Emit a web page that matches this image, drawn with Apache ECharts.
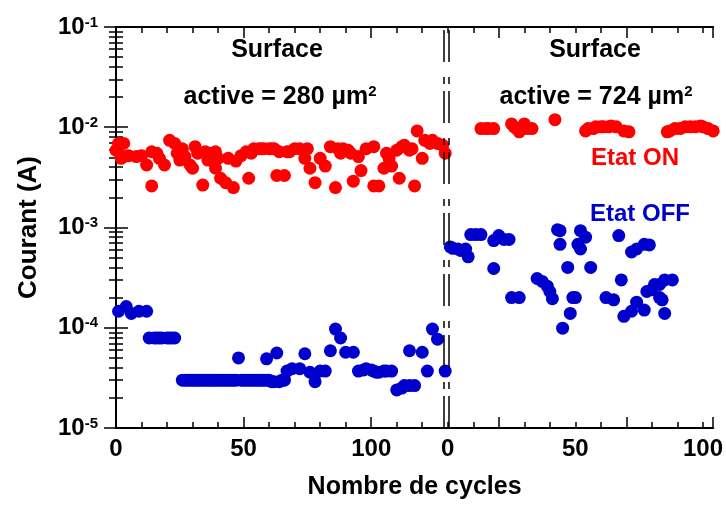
<!DOCTYPE html>
<html>
<head>
<meta charset="utf-8">
<title>Courant - Nombre de cycles</title>
<script src="https://cdn.jsdelivr.net/npm/echarts@6/dist/echarts.min.js"></script>
<style>
  html, body { margin: 0; padding: 0; background: #fff; }
  #chart { width: 726px; height: 505px; }
</style>
</head>
<body>
<div id="chart"></div>
<script>
// the two measurement runs share one x axis, the second run starts at 130
const SECOND_START = 130

// labels of the bottom axis (position on the shared axis -> text)
const xLabelPos = [0, 50, 100, 130, 180, 230]
const xLabelText = ['0', '50', '100', '0', '50', '100']

// surface 280 µm2 : [cycle, courant (A)]
const onLeft = [
  [0, 5.9e-3], [1, 6.9e-3], [2, 4.9e-3], [3, 6.9e-3], [3, 5.1e-3], [5, 5.2e-3], [8, 5.1e-3],
  [10, 5.2e-3], [12, 4.2e-3], [14, 5.7e-3], [14, 2.6e-3], [16, 5.5e-3], [17, 4.9e-3],
  [19, 4.2e-3], [21, 7.4e-3], [23, 6.9e-3], [24, 5.5e-3], [25, 4.7e-3], [26, 6.1e-3],
  [27, 5.1e-3], [29, 4.2e-3], [30, 3.9e-3], [31, 6.4e-3], [32, 5.5e-3], [34, 2.65e-3],
  [35, 5.7e-3], [36, 4.7e-3], [37, 5.5e-3], [39, 5.7e-3], [39, 3.9e-3], [40, 4.9e-3],
  [41, 3.1e-3], [43, 2.8e-3], [44, 4.9e-3], [46, 2.5e-3], [47, 4.6e-3], [49, 5.2e-3],
  [51, 5.7e-3], [52, 3.1e-3], [53, 5.5e-3], [54, 6.1e-3], [56, 6.1e-3], [57, 6.1e-3],
  [58, 6.1e-3], [60, 6.1e-3], [61, 6.1e-3], [62, 6.1e-3], [63, 3.3e-3], [64, 5.7e-3],
  [66, 3.3e-3], [67, 5.7e-3], [68, 5.7e-3], [70, 6.1e-3], [72, 6.1e-3], [74, 4.9e-3],
  [75, 6.1e-3], [76, 3.9e-3], [78, 2.8e-3], [80, 4.9e-3], [82, 4.1e-3], [84, 6.4e-3],
  [86, 2.5e-3], [87, 6.1e-3], [88, 5.5e-3], [89, 6.1e-3], [91, 5.9e-3], [92, 5.5e-3],
  [93, 2.9e-3], [95, 5.1e-3], [96, 3.7e-3], [98, 6.1e-3], [101, 6.4e-3], [101, 2.6e-3],
  [103, 2.6e-3], [105, 3.9e-3], [106, 5.5e-3], [107, 4.9e-3], [108, 4.1e-3], [110, 5.9e-3],
  [111, 3.1e-3], [112, 6.4e-3], [113, 6.6e-3], [115, 5.9e-3], [116, 6.1e-3], [117, 2.6e-3],
  [118, 9.2e-3], [120, 4.9e-3], [121, 7.4e-3], [123, 6.9e-3], [124, 7.4e-3], [126, 6.9e-3],
  [128, 6.6e-3], [129, 5.5e-3]
]
const offLeft = [
  [1, 1.46e-4], [4, 1.63e-4], [6, 1.39e-4], [9, 1.46e-4], [12, 1.46e-4],
  [13, 7.9e-5], [15, 7.9e-5], [16, 7.9e-5], [17, 7.9e-5], [18, 7.9e-5], [20, 7.9e-5],
  [21, 7.9e-5], [22, 7.9e-5], [23, 7.9e-5],
  [26, 3.0e-5], [27, 3.0e-5], [28, 3.0e-5], [29, 3.0e-5], [30, 3.0e-5], [31, 3.0e-5],
  [32, 3.0e-5], [33, 3.0e-5], [34, 3.0e-5], [35, 3.0e-5], [36, 3.0e-5], [37, 3.0e-5],
  [38, 3.0e-5], [39, 3.0e-5], [40, 3.0e-5], [41, 3.0e-5], [42, 3.0e-5], [43, 3.0e-5],
  [44, 3.0e-5], [45, 3.0e-5], [46, 3.0e-5], [47, 3.0e-5], [49, 3.0e-5], [50, 3.0e-5],
  [51, 3.0e-5], [52, 3.0e-5], [53, 3.0e-5], [54, 3.0e-5], [55, 3.0e-5], [56, 3.0e-5],
  [57, 3.0e-5], [58, 3.0e-5], [59, 3.0e-5], [60, 3.0e-5], [61, 2.9e-5], [62, 2.9e-5],
  [64, 2.9e-5], [65, 3.0e-5], [66, 3.0e-5],
  [48, 5.0e-5], [59, 4.9e-5], [63, 5.6e-5], [67, 3.7e-5], [69, 3.9e-5], [72, 3.9e-5],
  [74, 5.5e-5], [76, 3.6e-5], [78, 2.9e-5], [80, 3.7e-5], [82, 3.7e-5], [84, 5.9e-5],
  [86, 9.7e-5], [88, 7.9e-5], [90, 5.7e-5], [93, 5.7e-5], [95, 3.7e-5], [97, 3.8e-5],
  [98, 3.9e-5], [100, 3.8e-5], [101, 3.7e-5], [102, 3.6e-5], [103, 3.6e-5], [105, 3.7e-5],
  [106, 3.7e-5], [108, 3.7e-5], [110, 2.4e-5], [112, 2.5e-5], [113, 2.65e-5], [115, 2.65e-5],
  [117, 2.65e-5], [115, 5.9e-5], [120, 5.7e-5], [122, 3.7e-5], [124, 9.7e-5], [126, 7.7e-5],
  [129, 3.7e-5]
]

// surface 724 µm2 : [cycle, courant (A)]
const onRight = [
  [13, 9.7e-3], [15, 9.7e-3], [16, 9.7e-3], [18, 9.7e-3], [25, 1.08e-2], [26, 1.01e-2],
  [27, 9.7e-3], [28, 9.0e-3], [30, 1.08e-2], [31, 9.7e-3], [33, 9.7e-3], [42, 1.19e-2],
  [54, 9.2e-3], [55, 9.7e-3], [57, 9.7e-3], [58, 1.01e-2], [60, 1.01e-2], [61, 1.01e-2],
  [63, 1.01e-2], [64, 1.03e-2], [66, 1.01e-2], [69, 9.2e-3], [71, 9.0e-3],
  [86, 9.0e-3], [87, 9.2e-3], [89, 9.7e-3], [91, 9.7e-3], [93, 1.01e-2], [95, 1.01e-2],
  [97, 1.01e-2], [99, 1.03e-2], [100, 1.01e-2], [102, 9.7e-3], [104, 9.2e-3]
]
const offRight = [
  [1, 6.4e-4], [2, 6.2e-4], [4, 6.1e-4], [5, 5.9e-4], [7, 6.1e-4], [8, 5.1e-4],
  [9, 8.5e-4], [11, 8.5e-4], [13, 8.5e-4], [18, 7.4e-4], [18, 3.9e-4], [20, 8.3e-4],
  [22, 7.6e-4], [24, 7.6e-4], [25, 2.0e-4], [28, 2.0e-4], [35, 3.1e-4], [37, 2.9e-4],
  [39, 2.6e-4], [40, 2.3e-4], [41, 1.95e-4], [43, 9.5e-4], [44, 9.3e-4], [44, 6.8e-4],
  [45, 9.9e-5], [47, 4.0e-4], [48, 1.39e-4], [49, 2.0e-4], [50, 2.0e-4], [51, 6.8e-4],
  [52, 6.1e-4], [52, 9.3e-4], [54, 8.0e-4], [56, 4.0e-4], [62, 2.0e-4], [65, 1.9e-4],
  [67, 8.3e-4], [68, 3.0e-4], [69, 1.3e-4], [72, 1.46e-4], [72, 5.7e-4], [74, 6.1e-4],
  [74, 1.8e-4], [77, 1.5e-4], [77, 6.8e-4], [79, 6.7e-4], [78, 2.3e-4], [80, 2.4e-4],
  [81, 2.7e-4], [83, 2.0e-4], [84, 1.9e-4], [83, 2.7e-4], [85, 3.0e-4], [88, 3.0e-4],
  [85, 1.39e-4]
]

const FONT = 'Liberation Sans'
const RED = '#ff0000'
const BLUE = '#0000cc'
const DOT = 13

// minor ticks of the log axis, in log10 units
const minorLog = []
for (let d = -5; d < -1; d++) {
  for (let k = 2; k <= 9; k++) minorLog.push(d + Math.log10(k))
}

const shift = pts => pts.map(p => [p[0] + SECOND_START, p[1]])

const chart = echarts.init(document.getElementById('chart'))

const xBase = {
  type: 'value', min: 0, max: 234, gridIndex: 0,
  splitLine: { show: false },
  axisLine: { show: false, lineStyle: { color: '#000', width: 2 } },
  axisTick: { inside: true, length: 6, lineStyle: { color: '#000', width: 1.5 } },
  axisLabel: { show: false }
}
const yLogBase = {
  type: 'log', logBase: 10, min: 1e-5, max: 1e-1,
  splitLine: { show: false },
  axisLine: { show: true, lineStyle: { color: '#000', width: 2 } },
  axisTick: { inside: true, length: 12, lineStyle: { color: '#000', width: 1.5 } },
  axisLabel: { show: false }
}
const yMinorBase = {
  type: 'value', min: -5, max: -1,
  splitLine: { show: false },
  axisLine: { show: false },
  axisTick: { inside: true, length: 7, customValues: minorLog, lineStyle: { color: '#000', width: 1.5 } },
  axisLabel: { show: false }
}

const textStyle = (size, color) => ({
  fontFamily: FONT, fontWeight: 'bold', fontSize: size, fill: color
})

chart.setOption({
  animation: false,
  backgroundColor: '#fff',
  grid: { left: 116, right: 4, top: 27, bottom: 72 },
  xAxis: [
    Object.assign({}, xBase, {
      position: 'bottom', interval: 10,
      axisLine: { show: true, lineStyle: { color: '#000', width: 2 } },
      name: 'Nombre de cycles', nameLocation: 'middle', nameGap: 47,
      nameTextStyle: { fontFamily: FONT, fontWeight: 'bold', fontSize: 25, color: '#000' },
      axisLabel: {
        show: true, margin: 9, fontFamily: FONT, fontWeight: 'bold', fontSize: 24, color: '#000',
        formatter: v => {
          const i = xLabelPos.indexOf(Math.round(v))
          return i < 0 ? '' : xLabelText[i]
        }
      }
    }),
    Object.assign({}, xBase, { position: 'bottom', interval: 50,
      axisTick: { inside: true, length: 11, lineStyle: { color: '#000', width: 1.5 } } }),
    Object.assign({}, xBase, { position: 'top', interval: 10,
      axisLine: { show: true, lineStyle: { color: '#000', width: 2 } } }),
    Object.assign({}, xBase, { position: 'top', interval: 50,
      axisTick: { inside: true, length: 11, lineStyle: { color: '#000', width: 1.5 } } })
  ],
  yAxis: [
    Object.assign({}, yLogBase, {
      position: 'left',
      name: 'Courant (A)', nameLocation: 'middle', nameGap: 74,
      nameTextStyle: { fontFamily: FONT, fontWeight: 'bold', fontSize: 26, color: '#000' },
      axisLabel: {
        show: true, margin: 18,
        formatter: v => '{b|10}{s|' + Math.round(Math.log10(v)) + '}',
        rich: {
          b: { fontFamily: FONT, fontWeight: 'bold', fontSize: 24, color: '#000' },
          s: { fontFamily: FONT, fontWeight: 'bold', fontSize: 15, color: '#000', verticalAlign: 'top' }
        }
      }
    }),
    Object.assign({}, yMinorBase, { position: 'left' }),
    Object.assign({}, yLogBase, { position: 'right' }),
    Object.assign({}, yMinorBase, { position: 'right' })
  ],
  graphic: [
    { type: 'text', x: 277, y: 50, style: Object.assign(textStyle(25, '#000'),
      { text: 'Surface', align: 'center', verticalAlign: 'middle' }) },
    { type: 'text', x: 280, y: 97, style: Object.assign(textStyle(25, '#000'), {
      text: '{t|active = 280 µm}{s|2}', align: 'center', verticalAlign: 'middle',
      rich: { t: textStyle(25, '#000'), s: Object.assign(textStyle(15, '#000'), { verticalAlign: 'top' }) }
    }) },
    { type: 'text', x: 595, y: 50, style: Object.assign(textStyle(25, '#000'),
      { text: 'Surface', align: 'center', verticalAlign: 'middle' }) },
    { type: 'text', x: 596, y: 97, style: Object.assign(textStyle(25, '#000'), {
      text: '{t|active = 724 µm}{s|2}', align: 'center', verticalAlign: 'middle',
      rich: { t: textStyle(25, '#000'), s: Object.assign(textStyle(15, '#000'), { verticalAlign: 'top' }) }
    }) },
    { type: 'text', x: 635, y: 158, style: Object.assign(textStyle(24, RED),
      { text: 'Etat ON', align: 'center', verticalAlign: 'middle' }) },
    { type: 'text', x: 640, y: 214, style: Object.assign(textStyle(24, BLUE),
      { text: 'Etat OFF', align: 'center', verticalAlign: 'middle' }) }
  ],
  series: [
    {
      name: 'ON 280', type: 'scatter', data: onLeft, symbolSize: DOT,
      itemStyle: { color: RED, opacity: 1 },
      markLine: {
        silent: true, symbol: 'none', label: { show: false },
        lineStyle: { color: '#000', width: 1.5, type: [32, 7, 7, 15] },
        data: [{ xAxis: 128.6 }, { xAxis: 130.3 }]
      }
    },
    { name: 'OFF 280', type: 'scatter', data: offLeft, symbolSize: DOT, itemStyle: { color: BLUE, opacity: 1 } },
    { name: 'ON 724', type: 'scatter', data: shift(onRight), symbolSize: DOT, itemStyle: { color: RED, opacity: 1 } },
    { name: 'OFF 724', type: 'scatter', data: shift(offRight), symbolSize: DOT, itemStyle: { color: BLUE, opacity: 1 } }
  ]
})
</script>
</body>
</html>
